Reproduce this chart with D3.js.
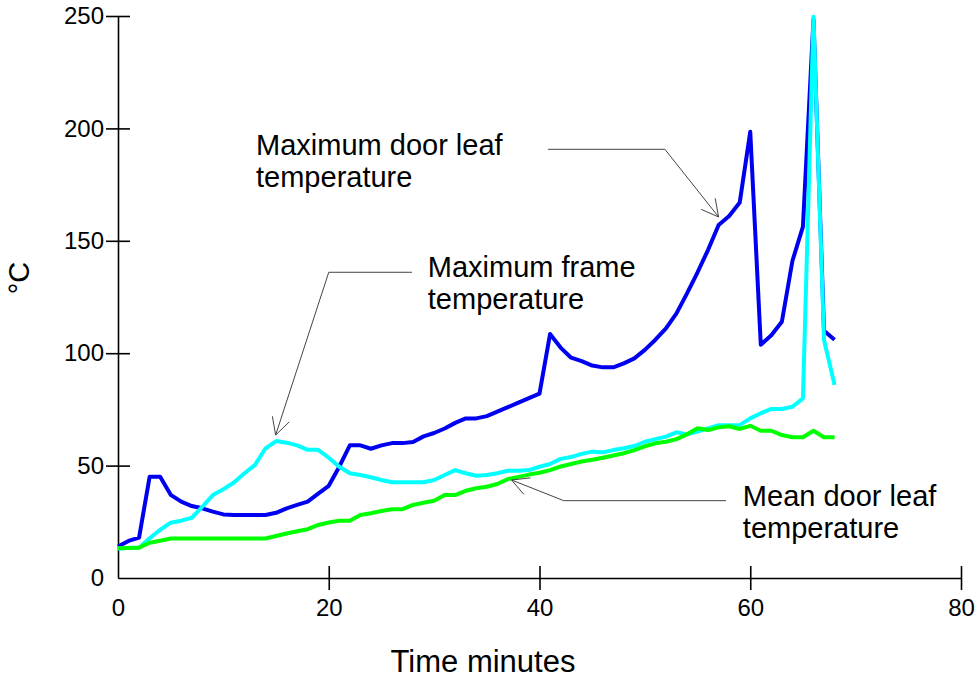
<!DOCTYPE html>
<html lang="en">
<head>
  <meta charset="UTF-8" />
  <title>Door leaf and frame temperatures</title>
  <script src="https://d3js.org/d3.v7.min.js"></script>
  <style>
    body {
      margin: 0;
      background: #fff;
    }
    svg {
      display: block;
      font-family: "Liberation Sans", Arial, sans-serif;
    }
    .series {
      fill: none;
      stroke-width: 4px;
      stroke-linejoin: round;
    }
    .axis path, .axis line {
      stroke: #000;
      stroke-width: 1.6px;
    }
    .axis text {
      font-size: 24px;
      fill: #000;
    }
    .leader {
      fill: none;
      stroke: #444;
      stroke-width: 1px;
    }
    .note {
      font-size: 29px;
      fill: #000;
    }
  </style>
</head>
<body>
  <svg width="977" height="680"></svg>

  <script>
    // time in minutes, one reading per minute
    const minutes = d3.range(0, 69);

    // Maximum door leaf temperature (deg C)
    const doorLeafMax = [
      14, 16.5, 18, 45, 45, 37, 34, 32, 31, 29.5,
      28.3, 28, 28, 28, 28, 29, 31, 32.5, 34, 37.5,
      41, 49.5, 59, 59, 57.5, 59, 60, 60, 60.5, 63,
      64.5, 66.5, 69, 71, 71, 72, 74, 76, 78, 80,
      82, 108.5, 102.5, 98, 96.5, 94.5, 93.7, 93.7, 95.5, 97.7,
      101.5, 106, 111, 117.7, 126.6, 136, 146, 157, 161, 167,
      198.5, 103.8, 108, 114, 141, 156.3, 248.5, 110, 106
    ];

    // Maximum frame temperature (deg C)
    const frameMax = [
      13, 13.5, 13.5, 17.7, 21.4, 24.6, 25.5, 26.8, 31.7, 36.9,
      39.5, 42.5, 46.6, 50.3, 57.7, 60.9, 60.2, 59, 57, 57,
      53.5, 49.5, 46.6, 45.8, 44.8, 43.6, 42.6, 42.6, 42.6, 42.6,
      43.6, 45.8, 48, 46.6, 45.5, 45.8, 46.6, 47.7, 47.7, 48,
      49.5, 50.7, 53, 53.8, 55.2, 56.2, 55.9, 56.9, 57.7, 58.7,
      60.6, 61.8, 62.9, 64.8, 63.9, 65.1, 66.6, 68, 68, 68,
      71, 73.3, 75.2, 75.2, 76.2, 79.9, 249.7, 105.9, 85.9
    ];

    // Mean door leaf temperature (deg C)
    const doorLeafMean = [
      13.2, 13.4, 13.5, 15.7, 16.6, 17.6, 17.6, 17.6, 17.6, 17.6,
      17.6, 17.6, 17.6, 17.6, 17.6, 18.7, 19.8, 20.8, 21.7, 23.6,
      24.7, 25.5, 25.5, 28, 28.8, 29.8, 30.6, 30.6, 32.5, 33.5,
      34.4, 36.9, 36.9, 38.8, 39.9, 40.6, 41.8, 44, 45, 46,
      46.8, 48, 49.6, 50.7, 51.8, 52.6, 53.5, 54.5, 55.5, 56.9,
      58.6, 59.9, 60.6, 61.8, 63.9, 66.6, 65.8, 67, 67.5, 66.3,
      67.7, 65.5, 65.5, 63.6, 62.6, 62.6, 65.5, 62.6, 62.6
    ];

    const xTicks = [0, 20, 40, 60, 80];
    const yTicks = [0, 50, 100, 150, 200, 250];

    // callout labels: text lines, text anchor point, elbow start, elbow, arrow tip (data units)
    const noteText = [
      ["Maximum door leaf", "temperature"],
      ["Maximum frame", "temperature"],
      ["Mean door leaf", "temperature"]
    ];
    const noteAt = [[13.1, 188.0], [29.4, 133.8], [59.3, 32.0]];
    const leaderFrom = [[40.8, 190.7], [27.9, 136], [57.7, 34.4]];
    const leaderElbow = [[51.9, 190.7], [20.0, 136], [42.3, 34.4]];
    const leaderTip = [[57.0, 160.6], [14.96, 63.6], [37.35, 43.6]];

    const svg = d3.select("svg");

    const x = d3.scaleLinear().domain([0, 80]).range([118, 961]);
    const y = d3.scaleLinear().domain([0, 250]).range([578, 16]);

    // axes, ticks cross the axis line
    const xAxis = svg.append("g")
      .attr("class", "axis")
      .attr("transform", `translate(0,${y(0)})`)
      .call(d3.axisBottom(x).tickValues(xTicks).tickSizeOuter(0).tickSizeInner(12).tickPadding(9));
    xAxis.selectAll(".tick line").attr("y1", -12)
      .filter(d => d === 0).remove();

    const yAxis = svg.append("g")
      .attr("class", "axis")
      .attr("transform", `translate(${x(0)},0)`)
      .call(d3.axisLeft(y).tickValues(yTicks).tickSizeOuter(0).tickSizeInner(12).tickPadding(2));
    yAxis.selectAll(".tick line").attr("x1", 12)
      .filter(d => d === 0).remove();

    // axis titles
    svg.append("text")
      .attr("x", 483)
      .attr("y", 672)
      .attr("text-anchor", "middle")
      .attr("font-size", 31)
      .text("Time minutes");

    svg.append("text")
      .attr("transform", "translate(29,278) rotate(-90)")
      .attr("text-anchor", "middle")
      .attr("font-size", 29)
      .text("°C");

    // lines
    const line = d3.line()
      .x((d, i) => x(minutes[i]))
      .y(d => y(d));

    const series = [
      { values: doorLeafMax, color: "#0000f0" },
      { values: frameMax, color: "#00ffff" },
      { values: doorLeafMean, color: "#00ff00" }
    ];

    svg.selectAll("path.series")
      .data(series)
      .enter()
      .append("path")
      .attr("class", "series")
      .attr("stroke", d => d.color)
      .attr("d", d => line(d.values));

    // callouts
    noteText.forEach((lines, i) => {
      const t = svg.append("text")
        .attr("class", "note")
        .attr("x", x(noteAt[i][0]))
        .attr("y", y(noteAt[i][1]));
      lines.forEach((s, j) => {
        t.append("tspan")
          .attr("x", x(noteAt[i][0]))
          .attr("dy", j === 0 ? 0 : 32)
          .text(s);
      });

      const p0 = [x(leaderFrom[i][0]), y(leaderFrom[i][1])];
      const p1 = [x(leaderElbow[i][0]), y(leaderElbow[i][1])];
      const p2 = [x(leaderTip[i][0]), y(leaderTip[i][1])];
      svg.append("path")
        .attr("class", "leader")
        .attr("d", d3.line()([p0, p1, p2]));

      // open arrow head
      const ang = Math.atan2(p1[1] - p2[1], p1[0] - p2[0]);
      const len = 19, spread = 28 * Math.PI / 180;
      const a = [p2[0] + len * Math.cos(ang - spread), p2[1] + len * Math.sin(ang - spread)];
      const b = [p2[0] + len * Math.cos(ang + spread), p2[1] + len * Math.sin(ang + spread)];
      svg.append("path")
        .attr("class", "leader")
        .attr("d", d3.line()([a, p2, b]));
    });
  </script>
</body>
</html>
